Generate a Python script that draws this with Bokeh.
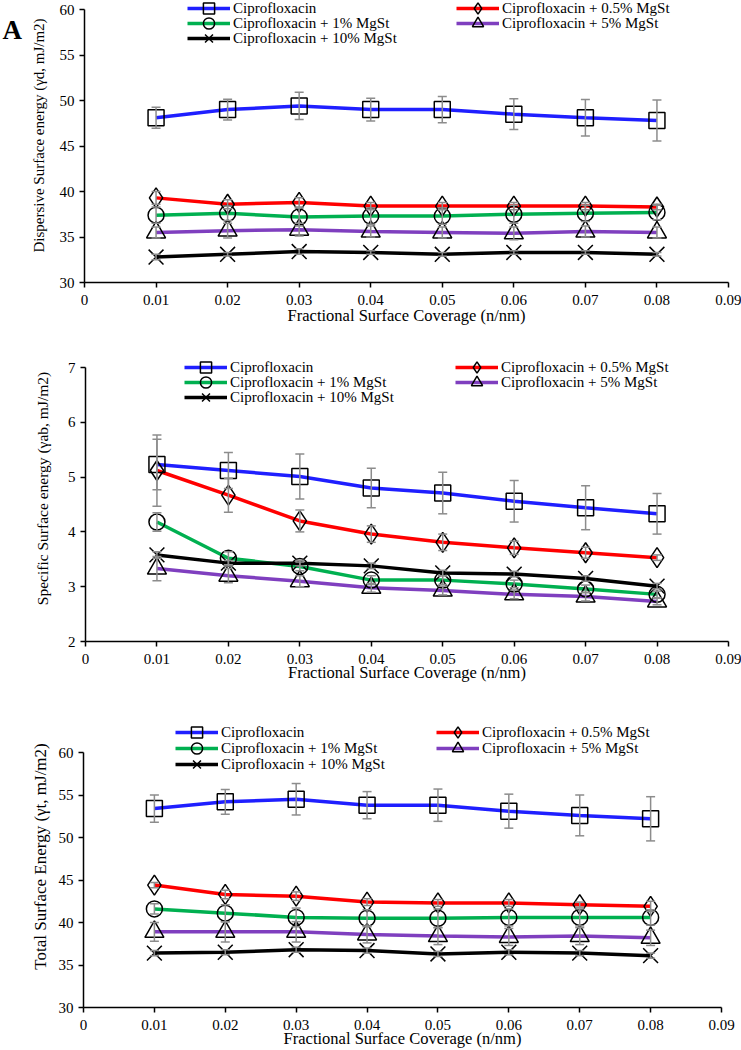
import math
from bokeh.plotting import figure
from bokeh.models import (Range1d, FixedTicker, Legend, LegendItem, Whisker,
                          TeeHead, ColumnDataSource, Label)
from bokeh.layouts import column
from bokeh.embed import file_html
from bokeh.resources import INLINE

# ---------------- data ----------------
coverage = [0.01, 0.02, 0.03, 0.04, 0.05, 0.06, 0.07, 0.08]
x_ticks = [0, 0.01, 0.02, 0.03, 0.04, 0.05, 0.06, 0.07, 0.08, 0.09]
x_tick_labels = ["0", "0.01", "0.02", "0.03", "0.04", "0.05", "0.06", "0.07", "0.08", "0.09"]
series_names = ["Ciprofloxacin", "Ciprofloxacin + 0.5% MgSt", "Ciprofloxacin + 1% MgSt",
                "Ciprofloxacin + 5% MgSt", "Ciprofloxacin + 10% MgSt"]
x_title = "Fractional Surface Coverage (n/nm)"

# Panel 1: dispersive surface energy
disp_cipro = [48.1, 49.0, 49.4, 49.0, 49.0, 48.5, 48.1, 47.8]
disp_cipro_err = [1.15, 1.15, 1.5, 1.25, 1.45, 1.7, 2.0, 2.25]
disp_05 = [39.3, 38.6, 38.8, 38.4, 38.4, 38.4, 38.4, 38.3]
disp_05_err = [0.7, 0.5, 0.5, 0.4, 0.4, 0.4, 0.4, 0.3]
disp_1 = [37.4, 37.6, 37.2, 37.3, 37.3, 37.5, 37.6, 37.7]
disp_1_err = [0.9, 0.8, 1.0, 0.9, 0.9, 1.0, 0.9, 0.8]
disp_5 = [35.5, 35.7, 35.8, 35.6, 35.5, 35.4, 35.6, 35.5]
disp_5_err = [0.6, 0.8, 0.7, 0.6, 0.6, 0.7, 0.6, 0.6]
disp_10 = [32.8, 33.1, 33.4, 33.3, 33.1, 33.3, 33.3, 33.1]
disp_10_err = [0.3, 0.2, 0.3, 0.2, 0.2, 0.2, 0.2, 0.2]

# Panel 2: specific surface energy
spec_cipro = [5.23, 5.12, 5.01, 4.80, 4.71, 4.56, 4.44, 4.33]
spec_cipro_err = [0.46, 0.33, 0.41, 0.36, 0.38, 0.38, 0.40, 0.37]
spec_05 = [5.12, 4.67, 4.20, 3.96, 3.81, 3.71, 3.62, 3.53]
spec_05_err = [0.65, 0.31, 0.20, 0.15, 0.15, 0.12, 0.10, 0.05]
spec_1 = [4.18, 3.52, 3.37, 3.12, 3.12, 3.05, 2.96, 2.86]
spec_1_err = [0.17, 0.12, 0.08, 0.08, 0.08, 0.07, 0.07, 0.06]
spec_5 = [3.33, 3.20, 3.10, 2.98, 2.93, 2.86, 2.82, 2.73]
spec_5_err = [0.22, 0.13, 0.10, 0.08, 0.08, 0.08, 0.08, 0.06]
spec_10 = [3.58, 3.43, 3.43, 3.38, 3.25, 3.23, 3.15, 3.01]
spec_10_err = [0.06, 0.05, 0.05, 0.05, 0.05, 0.05, 0.05, 0.05]

# Panel 3: total surface energy
tot_cipro = [53.4, 54.2, 54.5, 53.8, 53.8, 53.1, 52.6, 52.2]
tot_cipro_err = [1.6, 1.45, 1.85, 1.6, 1.9, 2.0, 2.4, 2.6]
tot_05 = [44.4, 43.3, 43.1, 42.4, 42.3, 42.3, 42.1, 41.9]
tot_05_err = [0.3, 0.5, 0.5, 0.4, 0.4, 0.4, 0.3, 0.6]
tot_1 = [41.6, 41.1, 40.6, 40.5, 40.5, 40.6, 40.6, 40.6]
tot_1_err = [0.6, 1.0, 1.1, 1.0, 1.1, 1.0, 1.0, 0.9]
tot_5 = [38.9, 38.9, 38.9, 38.6, 38.4, 38.3, 38.4, 38.2]
tot_5_err = [1.1, 1.2, 1.2, 1.0, 1.0, 1.0, 1.0, 0.9]
tot_10 = [36.4, 36.5, 36.8, 36.7, 36.3, 36.5, 36.4, 36.1]
tot_10_err = [0.3, 0.3, 0.3, 0.3, 0.3, 0.3, 0.3, 0.3]

# ---------------- styles / layout ----------------
colors = ["#1f1fff", "#ff0000", "#00b050", "#7f3fbf", "#000000"]
markers = ["square", "diamond", "circle", "triangle", "x"]
msizes = [16, 20, 16, 19, 21]
FONT = "Liberation Serif"
ERR_COLOR = "#8c8c8c"

W = 741
XMIN, XMAX = 0.0, 0.09
GH = 28                     # legend glyph box height


def make_panel(vals, errs, y0, y1, yticks, H, ax_x, top_px, bot_px,
               ytitle, ytitle_size, ytitle_xy, col_x, rows_y, xtitle_y):
    AX0, AX1 = ax_x
    kx = (AX1 - AX0) / (XMAX - XMIN)
    ky = (bot_px - top_px) / (y1 - y0)
    xr = Range1d(XMIN - AX0 / kx, XMAX + (W - AX1) / kx)
    yr = Range1d(y0 - (H - bot_px) / ky, y1 + top_px / ky)
    p = figure(width=W, height=H, title=None, x_range=xr, y_range=yr,
               min_border_left=0, min_border_right=0, min_border_top=0,
               min_border_bottom=0, output_backend="svg", toolbar_location=None)
    p.outline_line_color = None
    p.xgrid.visible = False
    p.ygrid.visible = False
    p.background_fill_color = "white"
    p.border_fill_color = "white"

    p.xaxis.fixed_location = y0
    p.xaxis.bounds = (XMIN, XMAX)
    p.yaxis.fixed_location = XMIN
    p.yaxis.bounds = (y0, y1)
    p.xaxis.ticker = FixedTicker(ticks=x_ticks)
    p.xaxis.major_label_overrides = {t: l for t, l in zip(x_ticks, x_tick_labels)}
    p.yaxis.ticker = FixedTicker(ticks=yticks)
    for ax in (p.xaxis, p.yaxis):
        ax.axis_line_color = "black"
        ax.axis_line_width = 1.5
        ax.major_tick_line_color = "black"
        ax.major_tick_line_width = 1.5
        ax.major_tick_in = 0
        ax.major_tick_out = 5
        ax.minor_tick_line_color = None
        ax.major_label_text_font = FONT
        ax.major_label_text_font_size = "15px"
        ax.major_label_text_color = "black"
    p.xaxis.major_label_standoff = 7
    p.yaxis.major_label_standoff = 5

    line_rs, mark_rs = [], []
    for i in range(5):
        line_rs.append(p.line(coverage, vals[i], line_color=colors[i], line_width=3.5))
    for i in range(5):
        up = [v + e for v, e in zip(vals[i], errs[i])]
        lo = [v - e for v, e in zip(vals[i], errs[i])]
        src = ColumnDataSource(dict(x=coverage, upper=up, lower=lo))
        p.add_layout(Whisker(source=src, base="x", upper="upper", lower="lower",
                             line_color=ERR_COLOR, line_width=1.5, level="glyph",
                             upper_head=TeeHead(size=9, line_color=ERR_COLOR, line_width=1.5),
                             lower_head=TeeHead(size=9, line_color=ERR_COLOR, line_width=1.5)))
    for i in range(5):
        mark_rs.append(p.scatter(coverage, vals[i], marker=markers[i], size=msizes[i],
                                 fill_alpha=0, line_color="black", line_width=1.5))

    # legend: column 1 = series 0, 2, 4 ; column 2 = series 1, 3
    slots = [(0, 0, 0), (2, 0, 1), (4, 0, 2), (1, 1, 0), (3, 1, 1)]
    for idx, c, r in slots:
        item = LegendItem(label=series_names[idx], renderers=[line_rs[idx], mark_rs[idx]])
        leg = Legend(items=[item], location=(col_x[c], H - rows_y[r] - GH / 2),
                     glyph_width=43, glyph_height=GH, label_height=GH,
                     label_standoff=3, spacing=0, padding=0, margin=0,
                     border_line_color=None, background_fill_alpha=0,
                     label_text_font=FONT, label_text_font_size="15px",
                     label_text_color="black")
        p.add_layout(leg)

    p.add_layout(Label(x=ytitle_xy[0], y=H - ytitle_xy[1], x_units="screen",
                       y_units="screen", text=ytitle, angle=math.pi / 2,
                       text_align="center", text_baseline="middle", text_font=FONT,
                       text_font_size=ytitle_size, text_color="black"))
    p.add_layout(Label(x=(AX0 + AX1) / 2, y=H - xtitle_y, x_units="screen",
                       y_units="screen", text=x_title, text_align="center",
                       text_baseline="middle", text_font=FONT,
                       text_font_size="16.5px", text_color="black"))
    return p


p1 = make_panel([disp_cipro, disp_05, disp_1, disp_5, disp_10],
                [disp_cipro_err, disp_05_err, disp_1_err, disp_5_err, disp_10_err],
                30, 60, [30, 35, 40, 45, 50, 55, 60], 335, (84, 728), 9, 282,
                "Dispersive Surface energy (\u03b3d, mJ/m2)", "15px", (38, 135),
                (187, 456), (8, 23, 38), 315)
p1.add_layout(Label(x=2, y=335 - 29, x_units="screen", y_units="screen", text="A",
                    text_align="left", text_baseline="middle", text_font=FONT,
                    text_font_size="27px", text_font_style="bold", text_color="black"))

p2 = make_panel([spec_cipro, spec_05, spec_1, spec_5, spec_10],
                [spec_cipro_err, spec_05_err, spec_1_err, spec_5_err, spec_10_err],
                2, 7, [2, 3, 4, 5, 6, 7], 355, (85, 728), 32, 306,
                "Specific Surface energy (\u03b3ab, mJ/m2)", "15.5px", (42, 153),
                (184, 455), (32, 47, 62), 337)

p3 = make_panel([tot_cipro, tot_05, tot_1, tot_5, tot_10],
                [tot_cipro_err, tot_05_err, tot_1_err, tot_5_err, tot_10_err],
                30, 60, [30, 35, 40, 45, 50, 55, 60], 358, (83, 721), 62, 317,
                "Total Surface Energy (\u03b3t, mJ/m2)", "17px", (40, 166),
                (175, 436), (42, 58, 74), 348)

layout = column(p1, p2, p3, spacing=0)
open("out.html", "w").write(file_html(layout, INLINE))
